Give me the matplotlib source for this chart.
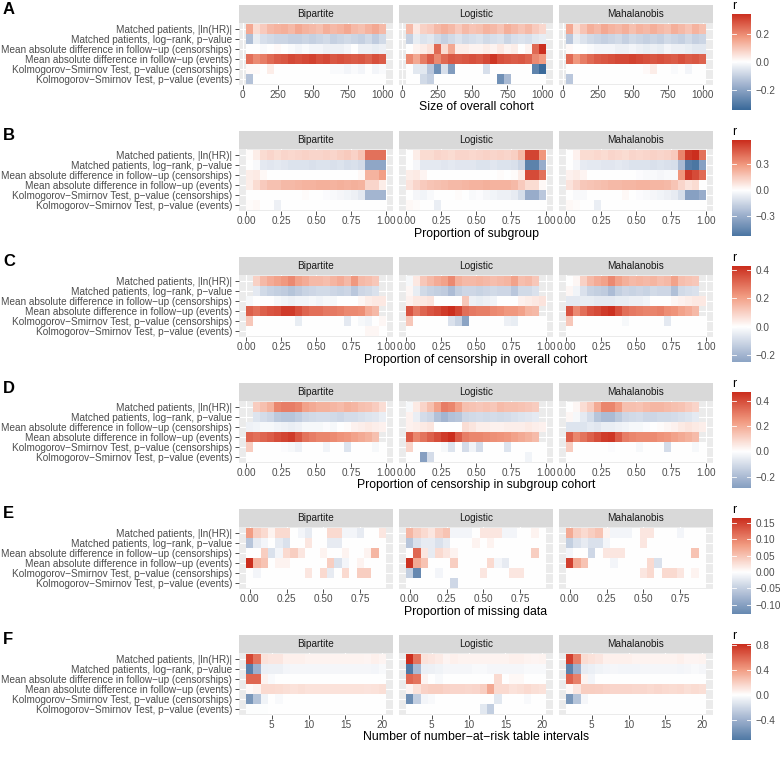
import numpy as np
import matplotlib
matplotlib.use("Agg")
import matplotlib.pyplot as plt
from matplotlib.colors import LinearSegmentedColormap, Normalize

plt.rcParams['font.family'] = ['Liberation Sans', 'DejaVu Sans']

nan = np.nan

metrics = [
    "Matched patients, |ln(HR)|",
    "Matched patients, log\u2212rank, p\u2212value",
    "Mean absolute difference in follow\u2212up (censorships)",
    "Mean absolute difference in follow\u2212up (events)",
    "Kolmogorov\u2212Smirnov Test, p\u2212value (censorships)",
    "Kolmogorov\u2212Smirnov Test, p\u2212value (events)",
]
methods = ["Bipartite", "Logistic", "Mahalanobis"]

# ---- A: size of overall cohort ----
size_x = [50, 100, 150, 200, 250, 300, 350, 400, 450, 500,
          550, 600, 650, 700, 750, 800, 850, 900, 950, 1000]
A_bip = [
    [0.15, 0.06, 0.09, 0.12, 0.13, 0.14, 0.12, 0.15, 0.13, 0.12, 0.11, 0.14, 0.12, 0.13, 0.15, 0.12, 0.11, 0.13, 0.15, 0.12],
    [-0.14, -0.04, -0.07, -0.08, -0.09, -0.09, -0.10, -0.10, -0.09, -0.10, -0.09, -0.08, -0.10, -0.09, -0.08, -0.09, -0.10, -0.08, -0.11, -0.08],
    [0.00, 0.00, -0.01, 0.00, 0.01, 0.00, -0.01, -0.02, -0.01, -0.02, -0.02, -0.03, -0.03, -0.03, -0.02, 0.00, -0.03, -0.03, -0.04, -0.03],
    [0.24, 0.20, 0.22, 0.25, 0.27, 0.28, 0.30, 0.29, 0.30, 0.31, 0.29, 0.30, 0.28, 0.29, 0.28, 0.27, 0.28, 0.26, 0.29, 0.27],
    [0.01, 0.01, 0.00, 0.03, 0.00, 0.00, 0.00, 0.00, 0.00, 0.00, 0.00, 0.00, -0.01, -0.01, -0.02, -0.01, -0.02, 0.00, -0.02, -0.01],
    [-0.13, 0.00, 0.00, 0.00, 0.00, 0.00, 0.00, 0.00, 0.00, 0.00, 0.00, 0.00, 0.00, 0.00, 0.00, 0.00, 0.00, 0.00, 0.00, 0.00],
]
A_log = [
    [0.12, 0.04, 0.08, 0.09, 0.12, 0.14, 0.12, 0.09, 0.12, 0.10, 0.11, 0.13, 0.12, 0.10, 0.14, 0.12, 0.10, 0.12, 0.09, 0.07],
    [-0.10, -0.04, -0.06, -0.05, -0.08, -0.10, -0.08, -0.06, -0.08, -0.07, -0.06, -0.08, -0.07, -0.06, -0.09, -0.07, -0.06, -0.07, -0.05, -0.04],
    [0.00, 0.02, 0.03, 0.05, 0.25, 0.06, 0.15, 0.03, 0.03, 0.02, 0.02, 0.03, 0.02, 0.04, 0.02, 0.03, 0.00, 0.02, 0.25, 0.34],
    [0.20, 0.15, 0.22, 0.27, 0.20, 0.25, 0.28, 0.27, 0.28, 0.29, 0.28, 0.30, 0.33, 0.29, 0.28, 0.27, 0.28, 0.26, 0.20, 0.17],
    [0.00, -0.05, -0.05, -0.12, -0.25, -0.07, -0.22, 0.00, 0.00, 0.00, 0.00, -0.07, 0.00, 0.00, 0.00, 0.00, 0.00, 0.00, -0.28, -0.345],
    [0.00, 0.00, -0.08, -0.10, 0.00, 0.00, 0.00, 0.00, 0.00, 0.00, 0.00, 0.00, 0.00, -0.25, -0.15, 0.00, 0.00, 0.00, 0.00, 0.00],
]
A_mah = [
    [0.15, 0.06, 0.10, 0.14, 0.12, 0.15, 0.13, 0.12, 0.14, 0.11, 0.13, 0.12, 0.14, 0.12, 0.11, 0.14, 0.12, 0.10, 0.13, 0.11],
    [-0.12, -0.04, -0.06, -0.08, -0.09, -0.10, -0.09, -0.08, -0.10, -0.08, -0.09, -0.10, -0.09, -0.10, -0.08, -0.09, -0.10, -0.08, -0.10, -0.09],
    [0.01, 0.00, 0.00, -0.01, -0.02, -0.02, -0.02, -0.03, -0.03, -0.02, -0.03, -0.04, -0.03, -0.04, -0.02, -0.03, -0.03, -0.04, -0.05, -0.05],
    [0.25, 0.18, 0.22, 0.25, 0.27, 0.28, 0.29, 0.30, 0.30, 0.31, 0.30, 0.29, 0.28, 0.29, 0.28, 0.27, 0.29, 0.27, 0.28, 0.26],
    [0.00, 0.00, 0.00, 0.00, 0.00, 0.00, 0.00, 0.00, 0.00, 0.00, 0.00, 0.01, 0.03, 0.00, 0.00, -0.01, 0.00, -0.02, 0.00, 0.00],
    [-0.12, 0.00, 0.00, 0.00, 0.00, 0.00, 0.00, 0.00, 0.00, 0.00, 0.00, 0.00, 0.00, 0.00, 0.00, 0.00, 0.00, 0.00, 0.00, 0.00],
]

# ---- B, C, D: proportions (20 bins) ----
prop_x = [0.025, 0.075, 0.125, 0.175, 0.225, 0.275, 0.325, 0.375, 0.425, 0.475,
          0.525, 0.575, 0.625, 0.675, 0.725, 0.775, 0.825, 0.875, 0.925, 0.975]
B_bip = [
    [0.01, 0.05, 0.10, 0.12, 0.10, 0.12, 0.11, 0.12, 0.13, 0.12, 0.12, 0.13, 0.12, 0.14, 0.15, 0.13, 0.17, 0.40, 0.40, 0.40],
    [0.00, -0.02, -0.08, -0.09, -0.08, -0.09, -0.10, -0.10, -0.10, -0.11, -0.10, -0.10, -0.11, -0.10, -0.12, -0.11, -0.13, -0.33, -0.33, -0.33],
    [0.05, 0.06, 0.02, 0.00, 0.00, 0.00, 0.00, 0.00, 0.00, 0.00, 0.00, 0.00, 0.00, 0.00, 0.00, 0.00, 0.02, 0.22, 0.22, 0.28],
    [0.05, 0.10, 0.15, 0.18, 0.18, 0.20, 0.20, 0.21, 0.22, 0.22, 0.23, 0.23, 0.22, 0.23, 0.22, 0.23, 0.22, 0.12, 0.12, 0.05],
    [0.00, 0.00, 0.00, 0.00, 0.00, 0.00, 0.00, 0.00, 0.01, 0.00, 0.00, -0.01, -0.02, -0.03, -0.04, -0.05, -0.08, -0.27, -0.27, -0.27],
    [0.01, 0.02, 0.00, 0.00, -0.05, 0.00, 0.00, 0.00, 0.00, 0.00, 0.00, 0.00, 0.00, 0.00, 0.00, 0.00, 0.00, 0.00, 0.00, 0.00],
]
B_log = [
    [0.00, 0.05, 0.10, 0.10, 0.12, 0.11, 0.10, 0.12, 0.12, 0.11, 0.12, 0.13, 0.12, 0.13, 0.12, 0.14, 0.20, 0.52, 0.52, 0.30],
    [0.00, -0.03, -0.08, -0.08, -0.08, -0.09, -0.08, -0.09, -0.09, -0.09, -0.10, -0.10, -0.09, -0.10, -0.10, -0.11, -0.15, -0.48, -0.48, -0.30],
    [0.05, 0.06, 0.03, 0.00, 0.00, 0.00, 0.00, 0.00, 0.00, 0.00, 0.00, 0.00, 0.00, 0.01, 0.00, 0.01, 0.05, 0.50, 0.50, 0.40],
    [0.08, 0.12, 0.15, 0.17, 0.18, 0.19, 0.20, 0.20, 0.21, 0.22, 0.22, 0.23, 0.22, 0.22, 0.22, 0.20, 0.15, 0.10, 0.10, 0.02],
    [0.00, -0.03, -0.04, -0.02, 0.00, 0.00, 0.00, 0.01, 0.00, -0.02, -0.01, -0.03, -0.04, -0.05, -0.05, -0.07, -0.12, -0.30, -0.30, -0.20],
    [0.02, 0.01, 0.00, 0.00, -0.06, 0.00, 0.00, 0.00, 0.00, 0.00, 0.00, 0.00, 0.00, 0.00, 0.00, 0.00, 0.00, 0.00, 0.00, 0.00],
]
B_mah = [
    [0.00, 0.04, 0.10, 0.10, 0.11, 0.10, 0.12, 0.11, 0.10, 0.12, 0.11, 0.12, 0.13, 0.12, 0.13, 0.15, 0.35, 0.55, 0.58, 0.40],
    [0.00, -0.03, -0.07, -0.08, -0.08, -0.09, -0.09, -0.08, -0.09, -0.10, -0.10, -0.10, -0.11, -0.10, -0.11, -0.12, -0.25, -0.50, -0.53, -0.35],
    [0.04, 0.05, 0.03, 0.00, 0.00, 0.00, 0.00, 0.00, 0.00, 0.00, -0.01, -0.02, -0.02, -0.03, -0.02, -0.02, 0.30, 0.55, 0.50, 0.42],
    [0.08, 0.12, 0.16, 0.17, 0.18, 0.19, 0.20, 0.20, 0.21, 0.21, 0.22, 0.22, 0.21, 0.21, 0.20, 0.17, 0.12, 0.08, 0.10, 0.00],
    [0.00, -0.02, -0.02, 0.00, 0.00, 0.00, 0.00, 0.00, 0.02, 0.00, -0.01, -0.02, -0.03, -0.04, -0.05, -0.07, -0.12, -0.35, -0.35, -0.30],
    [0.02, 0.01, 0.00, 0.00, -0.06, 0.00, 0.00, 0.00, 0.00, 0.00, 0.00, 0.00, 0.00, 0.00, 0.00, 0.00, 0.00, 0.00, 0.00, 0.00],
]

C_bip = [
    [nan, 0.10, 0.15, 0.18, 0.20, 0.22, 0.25, 0.20, 0.18, 0.15, 0.15, 0.14, 0.16, 0.18, 0.15, 0.22, 0.15, 0.14, 0.12, nan],
    [nan, -0.06, -0.10, -0.12, -0.13, -0.14, -0.16, -0.14, -0.12, -0.11, -0.10, -0.10, -0.11, -0.12, -0.11, -0.15, -0.11, -0.10, -0.08, nan],
    [-0.02, 0.00, 0.00, 0.00, -0.02, -0.03, -0.04, -0.03, -0.03, -0.02, -0.03, -0.02, -0.02, 0.00, 0.00, 0.00, 0.02, 0.04, 0.05, 0.05],
    [0.33, 0.30, 0.33, 0.35, 0.36, 0.40, 0.40, 0.36, 0.32, 0.30, 0.30, 0.28, 0.28, 0.27, 0.25, 0.25, 0.24, 0.18, 0.15, nan],
    [0.12, 0.00, 0.00, 0.00, 0.00, 0.00, 0.00, -0.05, 0.00, 0.00, 0.00, 0.00, 0.00, 0.00, -0.06, 0.00, -0.02, -0.03, 0.00, 0.02],
    [0.00, 0.00, 0.00, 0.00, 0.00, 0.00, 0.00, 0.00, 0.00, 0.00, 0.00, 0.00, 0.00, 0.00, 0.00, 0.00, 0.00, 0.02, 0.02, 0.00],
]
C_log = [
    [-0.02, 0.05, 0.12, 0.15, 0.18, 0.20, 0.25, 0.17, 0.15, 0.15, 0.16, 0.15, 0.14, 0.15, 0.16, 0.20, 0.14, 0.15, 0.12, nan],
    [0.02, -0.05, -0.10, -0.12, -0.13, -0.14, -0.18, -0.13, -0.11, -0.11, -0.12, -0.11, -0.10, -0.11, -0.11, -0.15, -0.10, -0.10, -0.08, nan],
    [0.03, 0.05, 0.05, 0.06, 0.00, 0.00, 0.00, 0.00, 0.12, -0.04, -0.05, -0.04, -0.03, 0.00, 0.00, 0.00, 0.03, 0.04, 0.05, 0.06],
    [0.35, 0.28, 0.32, 0.35, 0.37, 0.40, 0.43, 0.38, 0.30, 0.28, 0.27, 0.27, 0.25, 0.24, 0.22, 0.22, 0.20, 0.16, 0.15, nan],
    [0.12, 0.00, 0.00, 0.00, 0.00, 0.00, -0.08, -0.12, -0.25, 0.00, 0.00, 0.00, 0.00, 0.00, -0.04, -0.05, 0.00, 0.00, 0.00, 0.00],
    [0.00, 0.00, 0.00, 0.00, 0.00, 0.00, 0.00, 0.00, 0.00, 0.00, 0.00, 0.00, 0.00, 0.00, 0.00, 0.00, 0.00, 0.00, 0.00, 0.00],
]
C_mah = [
    [0.00, 0.02, 0.10, 0.15, 0.18, 0.20, 0.25, 0.20, 0.17, 0.15, 0.16, 0.15, 0.16, 0.14, 0.15, 0.20, 0.14, 0.13, 0.12, nan],
    [0.02, -0.03, -0.08, -0.12, -0.13, -0.14, -0.18, -0.13, -0.11, -0.12, -0.11, -0.12, -0.10, -0.11, -0.11, -0.17, -0.10, -0.09, -0.08, nan],
    [-0.06, -0.06, -0.05, -0.05, -0.06, -0.06, -0.06, -0.05, -0.05, -0.04, -0.04, -0.03, 0.00, 0.00, 0.00, 0.02, 0.03, 0.04, 0.05, 0.05],
    [0.35, 0.25, 0.30, 0.35, 0.37, 0.40, 0.42, 0.36, 0.30, 0.28, 0.27, 0.26, 0.26, 0.27, 0.24, 0.23, 0.20, 0.18, 0.15, nan],
    [0.12, 0.00, 0.00, 0.00, 0.00, 0.00, 0.00, 0.00, -0.02, 0.00, 0.00, 0.00, 0.00, 0.00, -0.06, 0.00, 0.00, 0.00, 0.00, 0.00],
    [0.00, 0.00, 0.00, 0.00, 0.00, 0.00, 0.00, 0.00, 0.00, 0.00, 0.00, 0.00, 0.00, 0.00, 0.00, 0.00, 0.00, 0.00, 0.00, 0.00],
]

D_bip = [
    [nan, 0.12, 0.15, 0.18, 0.28, 0.30, 0.30, 0.28, 0.22, 0.20, 0.18, 0.18, 0.17, 0.16, 0.18, 0.17, 0.15, 0.14, 0.12, 0.08],
    [nan, -0.08, -0.10, -0.12, -0.16, -0.17, -0.17, -0.15, -0.12, -0.11, -0.10, -0.10, -0.11, -0.12, -0.10, -0.10, -0.09, -0.08, -0.07, -0.05],
    [-0.04, -0.03, -0.02, -0.02, -0.03, -0.04, -0.05, -0.04, -0.02, -0.02, -0.02, -0.01, -0.02, 0.00, 0.01, 0.03, 0.04, 0.05, 0.04, 0.03],
    [0.35, 0.33, 0.35, 0.37, 0.40, 0.42, 0.44, 0.38, 0.32, 0.30, 0.28, 0.28, 0.27, 0.25, 0.24, 0.22, 0.20, 0.18, 0.15, nan],
    [0.12, 0.00, 0.00, 0.00, 0.00, -0.01, -0.02, -0.04, 0.00, 0.00, 0.00, -0.03, 0.00, 0.00, -0.08, 0.00, 0.00, 0.00, -0.02, 0.00],
    [0.00, 0.00, 0.00, 0.00, 0.00, 0.00, 0.00, 0.00, 0.00, 0.00, 0.00, 0.00, 0.00, 0.00, 0.00, 0.00, 0.00, 0.00, 0.00, 0.00],
]
D_log = [
    [-0.02, 0.05, 0.10, 0.15, 0.22, 0.30, 0.28, 0.22, 0.15, 0.14, 0.13, 0.14, 0.13, 0.16, 0.15, 0.15, 0.14, 0.13, 0.12, nan],
    [0.03, -0.05, -0.10, -0.12, -0.18, -0.22, -0.18, -0.17, -0.12, -0.11, -0.10, -0.11, -0.10, -0.11, -0.10, -0.09, -0.08, -0.07, -0.06, nan],
    [0.03, 0.04, 0.05, 0.06, 0.00, 0.00, 0.00, 0.00, 0.08, 0.06, 0.04, 0.04, 0.03, 0.03, 0.04, 0.04, 0.04, 0.05, 0.04, 0.03],
    [0.37, 0.28, 0.32, 0.36, 0.40, 0.44, 0.47, 0.37, 0.30, 0.28, 0.28, 0.27, 0.26, 0.25, 0.24, 0.22, 0.20, 0.18, 0.16, nan],
    [0.10, 0.00, 0.00, 0.00, 0.00, -0.02, -0.08, 0.00, -0.10, -0.03, -0.10, 0.00, 0.00, 0.00, -0.08, 0.00, 0.00, 0.00, 0.00, 0.00],
    [0.00, 0.00, -0.29, -0.10, 0.00, 0.00, 0.00, 0.00, 0.00, 0.00, 0.00, 0.00, 0.00, 0.00, 0.00, 0.00, 0.00, -0.03, 0.00, 0.00],
]
D_mah = [
    [0.00, 0.02, 0.08, 0.12, 0.20, 0.28, 0.28, 0.23, 0.15, 0.15, 0.14, 0.16, 0.17, 0.17, 0.16, 0.15, 0.14, 0.12, 0.10, nan],
    [0.02, -0.02, -0.06, -0.10, -0.17, -0.20, -0.20, -0.16, -0.12, -0.11, -0.10, -0.12, -0.12, -0.11, -0.11, -0.10, -0.09, -0.08, -0.06, nan],
    [-0.08, -0.08, -0.08, -0.06, -0.07, -0.05, -0.05, -0.04, -0.03, -0.02, -0.02, -0.01, 0.00, 0.01, 0.02, 0.03, 0.05, 0.06, 0.05, 0.04],
    [0.36, 0.28, 0.32, 0.36, 0.40, 0.44, 0.45, 0.37, 0.30, 0.28, 0.27, 0.27, 0.27, 0.25, 0.24, 0.22, 0.20, 0.18, 0.16, nan],
    [0.12, 0.00, 0.00, 0.00, 0.00, 0.00, -0.01, 0.00, 0.00, 0.00, -0.02, 0.00, 0.00, 0.00, -0.10, 0.00, 0.00, 0.00, -0.02, 0.00],
    [0.00, 0.00, 0.00, 0.00, 0.00, 0.00, 0.00, 0.00, 0.00, 0.00, 0.00, 0.00, 0.00, 0.00, 0.00, 0.00, 0.00, 0.00, 0.00, 0.00],
]

# ---- E: proportion of missing data ----
miss_x = [0.00, 0.05, 0.10, 0.15, 0.20, 0.25, 0.30, 0.35, 0.40, 0.45,
          0.50, 0.55, 0.60, 0.65, 0.70, 0.75, 0.80, 0.85, 0.90]
E_bip = [
    [0.08, 0.04, 0.03, 0.01, 0.03, 0.03, 0.00, -0.01, -0.02, 0.00, 0.00, 0.03, 0.03, -0.01, -0.01, -0.02, 0.00, 0.00, 0.02],
    [-0.06, -0.02, -0.01, 0.00, -0.02, -0.03, 0.00, 0.00, 0.02, 0.00, 0.00, -0.02, -0.02, 0.00, 0.00, 0.00, 0.00, 0.00, 0.00],
    [0.00, 0.00, 0.04, -0.03, -0.01, 0.03, 0.04, 0.02, 0.00, 0.00, 0.01, 0.00, 0.00, 0.01, 0.00, 0.00, 0.01, 0.06, 0.00],
    [0.165, 0.06, 0.05, 0.00, 0.01, 0.01, 0.00, 0.00, 0.00, 0.00, 0.00, 0.04, -0.03, -0.01, 0.00, 0.01, 0.00, 0.00, 0.00],
    [0.00, -0.01, 0.00, 0.00, 0.00, 0.00, 0.00, 0.00, 0.02, 0.00, 0.03, -0.02, 0.00, 0.03, 0.00, 0.04, 0.04, 0.00, 0.00],
    [0.00, 0.00, 0.00, 0.00, 0.00, 0.00, 0.00, 0.00, 0.00, 0.00, 0.00, 0.00, 0.00, 0.00, 0.00, 0.00, 0.00, 0.00, 0.00],
]
E_log = [
    [0.06, 0.04, 0.03, 0.02, 0.04, 0.05, -0.01, -0.01, -0.01, 0.00, 0.02, 0.02, 0.02, -0.01, -0.01, 0.00, 0.00, 0.01, 0.00],
    [-0.06, -0.03, -0.02, -0.02, -0.03, -0.02, 0.00, 0.00, 0.00, 0.01, 0.00, 0.01, 0.00, 0.00, 0.00, 0.00, 0.00, 0.00, 0.00],
    [0.00, 0.12, 0.02, -0.02, 0.03, 0.02, 0.01, 0.00, 0.00, 0.00, 0.00, 0.00, 0.00, 0.00, 0.00, 0.00, 0.00, 0.04, 0.00],
    [0.16, 0.07, 0.05, 0.00, 0.00, 0.00, 0.04, 0.00, 0.00, 0.00, 0.00, 0.03, -0.01, -0.02, 0.00, 0.00, 0.00, 0.00, 0.00],
    [-0.05, -0.128, 0.00, 0.00, -0.01, 0.00, 0.00, 0.00, 0.00, 0.00, 0.02, 0.00, 0.00, 0.00, 0.02, 0.02, 0.00, 0.00, 0.00],
    [0.00, 0.00, 0.00, 0.00, 0.00, 0.00, -0.04, 0.00, 0.00, 0.00, 0.00, 0.00, 0.00, 0.00, 0.00, 0.00, 0.00, 0.00, 0.00],
]
E_mah = [
    [0.07, 0.04, 0.03, 0.04, 0.05, 0.01, -0.01, -0.01, -0.01, 0.00, 0.02, 0.02, 0.00, 0.00, 0.00, -0.01, 0.00, 0.00, 0.00],
    [-0.05, -0.03, -0.02, -0.03, -0.03, -0.01, 0.00, 0.00, 0.00, 0.00, 0.02, 0.00, 0.00, 0.00, 0.00, 0.00, 0.00, 0.00, 0.00],
    [-0.01, 0.00, 0.00, -0.04, 0.00, 0.02, 0.02, 0.02, 0.00, 0.00, 0.00, 0.00, 0.00, 0.00, 0.00, 0.00, 0.00, 0.05, 0.00],
    [0.15, 0.07, 0.05, 0.00, 0.00, 0.00, -0.01, 0.00, 0.00, 0.00, 0.00, 0.03, -0.03, 0.00, 0.00, 0.00, 0.00, 0.00, 0.00],
    [0.00, 0.00, 0.00, 0.00, 0.00, 0.00, 0.00, 0.00, 0.00, 0.00, 0.02, 0.03, 0.00, 0.03, 0.03, 0.02, 0.00, 0.01, 0.00],
    [0.00, 0.00, 0.00, 0.00, 0.00, 0.00, 0.00, 0.00, 0.00, 0.00, 0.00, 0.00, 0.00, 0.00, 0.00, 0.00, 0.00, 0.00, 0.00],
]

# ---- F: number of number-at-risk table intervals ----
nrisk_x = [2, 3, 4, 5, 6, 7, 8, 9, 10, 11, 12, 13, 14, 15, 16, 17, 18, 19, 20]
F_bip = [
    [0.72, 0.55, 0.12, 0.10, 0.10, 0.06, 0.06, 0.06, 0.05, 0.05, 0.05, 0.05, 0.05, 0.05, 0.05, 0.05, 0.04, 0.06, 0.04],
    [-0.68, -0.40, -0.08, -0.07, -0.07, -0.05, -0.04, -0.04, -0.04, -0.04, -0.04, -0.04, -0.04, -0.04, -0.04, -0.04, -0.04, -0.05, -0.03],
    [0.60, 0.60, 0.05, -0.02, 0.00, 0.00, 0.00, 0.00, 0.00, 0.00, 0.00, 0.00, 0.00, 0.00, 0.00, 0.00, 0.00, 0.00, 0.00],
    [0.02, 0.05, 0.15, 0.15, 0.14, 0.13, 0.12, 0.13, 0.12, 0.12, 0.12, 0.12, 0.12, 0.12, 0.12, 0.12, 0.11, 0.12, 0.13],
    [-0.55, -0.30, -0.06, 0.00, -0.03, 0.00, 0.00, 0.00, 0.00, 0.00, 0.00, 0.00, 0.00, 0.00, 0.00, 0.00, 0.00, 0.00, 0.00],
    [-0.01, -0.01, -0.01, 0.00, 0.00, 0.00, 0.00, 0.00, 0.00, 0.00, 0.00, 0.00, 0.00, 0.00, 0.00, 0.00, 0.00, 0.00, 0.00],
]
F_log = [
    [0.81, 0.55, 0.12, 0.10, 0.08, 0.04, 0.06, 0.05, 0.05, 0.05, 0.05, 0.05, 0.05, 0.05, 0.06, 0.06, 0.05, 0.04, 0.05],
    [-0.72, -0.35, -0.08, -0.07, -0.06, -0.04, -0.04, -0.04, -0.04, -0.03, -0.03, -0.04, -0.04, -0.04, -0.04, -0.04, -0.03, -0.03, -0.03],
    [0.60, 0.55, 0.04, 0.00, -0.03, 0.00, 0.00, 0.00, 0.00, 0.00, 0.00, 0.00, 0.15, 0.00, 0.03, 0.03, 0.00, 0.00, 0.00],
    [0.04, 0.12, 0.18, 0.20, 0.20, 0.18, 0.17, 0.17, 0.16, 0.17, 0.20, 0.35, 0.15, 0.15, 0.12, 0.13, 0.15, 0.13, 0.12],
    [-0.60, -0.25, -0.05, -0.03, 0.00, 0.00, 0.00, 0.00, 0.00, 0.00, 0.00, 0.00, -0.12, 0.00, 0.00, 0.00, -0.03, 0.00, 0.00],
    [0.00, 0.00, 0.00, 0.00, 0.00, 0.00, 0.00, 0.00, 0.00, 0.00, -0.12, -0.25, 0.00, 0.00, 0.00, 0.00, 0.00, 0.00, 0.00],
]
F_mah = [
    [0.74, 0.50, 0.14, 0.12, 0.10, 0.06, 0.06, 0.06, 0.06, 0.05, 0.05, 0.05, 0.05, 0.05, 0.05, 0.06, 0.04, 0.04, 0.05],
    [-0.66, -0.40, -0.10, -0.08, -0.06, -0.05, -0.04, -0.05, -0.05, -0.05, -0.04, -0.04, -0.04, -0.04, -0.04, -0.05, -0.04, -0.03, -0.04],
    [0.62, 0.50, 0.05, -0.05, 0.00, 0.00, 0.00, 0.00, 0.00, 0.00, 0.00, 0.00, 0.00, 0.00, 0.00, 0.00, 0.00, 0.00, 0.00],
    [0.03, 0.10, 0.20, 0.20, 0.19, 0.18, 0.17, 0.17, 0.17, 0.16, 0.16, 0.15, 0.16, 0.15, 0.14, 0.15, 0.13, 0.14, 0.13],
    [-0.55, -0.30, -0.04, 0.00, 0.00, 0.00, 0.00, 0.00, 0.00, 0.00, 0.00, 0.00, 0.00, 0.00, 0.00, 0.00, 0.00, 0.00, 0.00],
    [0.00, 0.00, 0.00, 0.00, 0.00, 0.00, 0.00, 0.00, 0.00, 0.00, 0.00, 0.00, 0.00, 0.00, 0.00, 0.00, 0.00, 0.00, 0.00],
]

prop_ticks = [0, 0.25, 0.5, 0.75, 1.0]
prop_labels = ["0.00", "0.25", "0.50", "0.75", "1.00"]

panels = [
    ("A", size_x, 50, (A_bip, A_log, A_mah), [0, 250, 500, 750, 1000],
     ["0", "250", "500", "750", "1000"], "Size of overall cohort", [-0.2, 0.0, 0.2], "{:.1f}"),
    ("B", prop_x, 0.05, (B_bip, B_log, B_mah), prop_ticks, prop_labels,
     "Proportion of subgroup", [-0.3, 0.0, 0.3], "{:.1f}"),
    ("C", prop_x, 0.05, (C_bip, C_log, C_mah), prop_ticks, prop_labels,
     "Proportion of censorship in overall cohort", [-0.2, 0.0, 0.2, 0.4], "{:.1f}"),
    ("D", prop_x, 0.05, (D_bip, D_log, D_mah), prop_ticks, prop_labels,
     "Proportion of censorship in subgroup cohort", [-0.2, 0.0, 0.2, 0.4], "{:.1f}"),
    ("E", miss_x, 0.05, (E_bip, E_log, E_mah), [0, 0.25, 0.5, 0.75],
     ["0.00", "0.25", "0.50", "0.75"], "Proportion of missing data",
     [-0.10, -0.05, 0.0, 0.05, 0.10, 0.15], "{:.2f}"),
    ("F", nrisk_x, 1, (F_bip, F_log, F_mah), [5, 10, 15, 20],
     ["5", "10", "15", "20"], "Number of number\u2212at\u2212risk table intervals",
     [-0.4, 0.0, 0.4, 0.8], "{:.1f}"),
]

cmap = LinearSegmentedColormap.from_list(
    "r_div", [(0, "#3B6A9A"), (0.25, "#9DB0CD"), (0.5, "#FFFFFF"),
              (0.75, "#F29C82"), (1, "#CB2E1E")])

W, H = 780, 757
fig = plt.figure(figsize=(W / 100, H / 100), dpi=100)


def px_axes(x0, y0, x1, y1):
    return fig.add_axes([x0 / W, 1 - y1 / H, (x1 - x0) / W, (y1 - y0) / H])


facet_x = [(239, 393), (399, 553), (559, 713)]
txt = 7.2
title_size = 8.8
grey30 = "#4D4D4D"

for i, (letter, xs, step, grids, xt, xtl, xlabel, cticks, cfmt) in enumerate(panels):
    top = 126 * i
    vals = np.array(grids, dtype=float)
    lo, hi = np.nanmin(vals), np.nanmax(vals)
    m = max(abs(lo), abs(hi))
    norm = Normalize(-m, m)
    x0, x1 = xs[0] - step / 2, xs[-1] + step / 2
    pad = (x1 - x0) * 0.05

    for j, name in enumerate(methods):
        left, right = facet_x[j]
        ax = px_axes(left, top + 23.4, right, top + 84.6)
        ax.set_facecolor("#EBEBEB")
        ax.imshow(np.array(grids[j], dtype=float), cmap=cmap, norm=norm,
                  extent=[x0, x1, 5.5, -0.5], aspect="auto",
                  interpolation="nearest", zorder=1)
        ax.set_xlim(x0 - pad, x1 + pad)
        ax.set_ylim(5.6, -0.6)
        for s in ax.spines.values():
            s.set_visible(False)
        ax.set_xticks(xt)
        ax.set_xticklabels(xtl, fontsize=txt, color=grey30)
        ax.set_yticks(range(6))
        if j == 0:
            ax.set_yticklabels(metrics, fontsize=txt, color=grey30)
            ax.tick_params(axis="y", length=2.75, width=0.6, color="#333333", pad=2.2)
        else:
            ax.set_yticklabels([])
            ax.tick_params(axis="y", length=0)
        ax.tick_params(axis="x", length=2.75, width=0.6, color="#333333", pad=1.2)
        ax.grid(True, color="white", linewidth=0.8)
        ax.set_axisbelow(True)

        sax = px_axes(left, top + 5, right, top + 22.7)
        sax.set_facecolor("#D9D9D9")
        sax.set_xticks([])
        sax.set_yticks([])
        for s in sax.spines.values():
            s.set_visible(False)
        sax.text(0.5, 0.5, name, ha="center", va="center", fontsize=txt,
                 color="#1A1A1A", transform=sax.transAxes)

    fig.text(476 / W, 1 - (top + 107.5) / H, xlabel, ha="center", va="center",
             fontsize=title_size)
    fig.text(3 / W, 1 - (top + 10) / H, letter, ha="left", va="center",
             fontsize=12, fontweight="bold")

    # colourbar covering the data range only
    cax = px_axes(732, top + 14, 751, top + 110)
    grad = np.linspace(hi, lo, 256)[:, None]
    cax.imshow(grad, cmap=cmap, norm=norm, extent=[0, 1, lo, hi],
               aspect="auto", origin="upper")
    cax.set_xlim(0, 1)
    cax.set_ylim(lo, hi)
    cax.set_xticks([])
    cax.yaxis.tick_right()
    cax.set_yticks(cticks)
    cax.set_yticklabels([cfmt.format(t).replace("-", "\u2212") for t in cticks],
                        fontsize=txt, color=grey30)
    cax.tick_params(axis="y", length=0, pad=3)
    for s in cax.spines.values():
        s.set_visible(False)
    for t in cticks:
        cax.plot([0, 0.2], [t, t], color="white", lw=0.6)
        cax.plot([0.8, 1], [t, t], color="white", lw=0.6)
    fig.text(732 / W, 1 - (top + 6) / H, "r", ha="left", va="center",
             fontsize=title_size)

fig.savefig("out.png", dpi=100)
